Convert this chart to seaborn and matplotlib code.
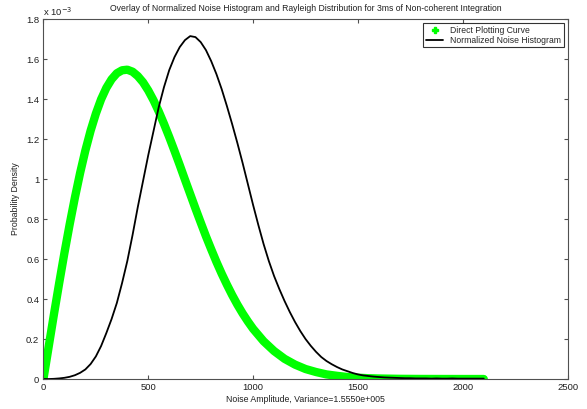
import numpy as np
import pandas as pd
import seaborn as sns
from matplotlib import pyplot as plt
from matplotlib.lines import Line2D
from matplotlib.ticker import FuncFormatter

# values, density in units of 1e-3
rayleigh_x = list(range(0, 1025, 25)) + list(range(1050, 1650, 50)) + [1700, 1800, 1900, 2000, 2100]
rayleigh_pdf = [0.0, 0.162, 0.323, 0.479, 0.630, 0.773, 0.907, 1.031, 1.143, 1.242,
                1.327, 1.399, 1.456, 1.499, 1.529, 1.544, 1.547, 1.537, 1.515, 1.484,
                1.443, 1.394, 1.338, 1.276, 1.210, 1.141, 1.070, 0.997, 0.925, 0.853,
                0.783, 0.714, 0.649, 0.586, 0.527, 0.472, 0.420, 0.372, 0.328, 0.288,
                0.251,
                0.189, 0.140, 0.101, 0.072, 0.050, 0.035, 0.023, 0.016, 0.010, 0.0065,
                0.004, 0.0025,
                0.0009, 0.0003, 0.0001, 0.0, 0.0]

hist_x = list(range(0, 2125, 25))
hist_pdf = [0.0, 0.0, 0.001, 0.003, 0.006, 0.011, 0.019, 0.031, 0.048, 0.075,
            0.113, 0.165, 0.23, 0.30, 0.38, 0.48, 0.59, 0.72, 0.86, 0.99,
            1.12, 1.24, 1.36, 1.46, 1.545, 1.61, 1.66, 1.695, 1.715, 1.71,
            1.685, 1.645, 1.59, 1.525, 1.45, 1.365, 1.275, 1.18, 1.08, 0.975,
            0.87, 0.77, 0.675, 0.59, 0.515, 0.45, 0.39, 0.335, 0.285, 0.24,
            0.20, 0.166, 0.136, 0.11, 0.09, 0.074, 0.06, 0.048, 0.039, 0.03,
            0.023, 0.018, 0.015, 0.012, 0.01, 0.008, 0.007, 0.006, 0.005, 0.004,
            0.004, 0.003, 0.003, 0.003, 0.002, 0.003, 0.002, 0.002, 0.003, 0.002,
            0.002, 0.002, 0.002, 0.002, 0.002]

sns.set_style('ticks')
plt.rcParams['font.family'] = ['Liberation Sans', 'DejaVu Sans']
edge = '#505050'
txt = '#202020'

fig = plt.figure(figsize=(5.87, 4.09), dpi=100)
ax = fig.add_axes([0.074, 0.0733, 0.893, 0.880])

sns.lineplot(x=rayleigh_x, y=rayleigh_pdf, ax=ax, color='#00ff00', linewidth=6,
             solid_capstyle='round', solid_joinstyle='round')
sns.lineplot(x=hist_x, y=hist_pdf, ax=ax, color='black', linewidth=1.3)

ax.set_xlim(0, 2500)
ax.set_ylim(0, 1.8)
ax.set_xticks([0, 500, 1000, 1500, 2000, 2500])
ax.set_yticks(np.arange(0, 1.81, 0.2))
ax.yaxis.set_major_formatter(FuncFormatter(lambda v, p: '%g' % round(v, 1)))
ax.tick_params(direction='in', length=3, width=0.8, colors=edge, labelsize=6.8,
               top=True, right=True, labelcolor=txt, pad=3)
for s in ax.spines.values():
    s.set_color(edge)
    s.set_linewidth(0.8)

ax.set_title('Overlay of Normalized Noise Histogram and Rayleigh Distribution for 3ms of Non-coherent Integration',
             fontsize=6.2, color=txt, pad=6)
ax.set_xlabel('Noise Amplitude, Variance=1.5550e+005', fontsize=6.3, color=txt, labelpad=2)
ax.set_ylabel('Probability Density', fontsize=6.3, color=txt)
ax.yaxis.set_label_coords(-0.045, 0.5)
ax.text(0.0, 1.004, r'x 10$^{-3}$', transform=ax.transAxes, fontsize=6.8,
        color=txt, ha='left', va='bottom')

handles = [Line2D([], [], color='#00ff00', marker='P', linestyle='none', markersize=4.5),
           Line2D([], [], color='black', linewidth=1.3)]
leg = ax.legend(handles, ['Direct Plotting Curve', 'Normalized Noise Histogram'],
                loc='upper right', fontsize=6.2, frameon=True, fancybox=False,
                borderaxespad=0.45, handlelength=2.0, borderpad=0.3, labelspacing=0.15,
                handletextpad=0.8)
leg.get_frame().set_edgecolor('black')
leg.get_frame().set_linewidth(0.8)

fig.savefig('out.png', dpi=100)
